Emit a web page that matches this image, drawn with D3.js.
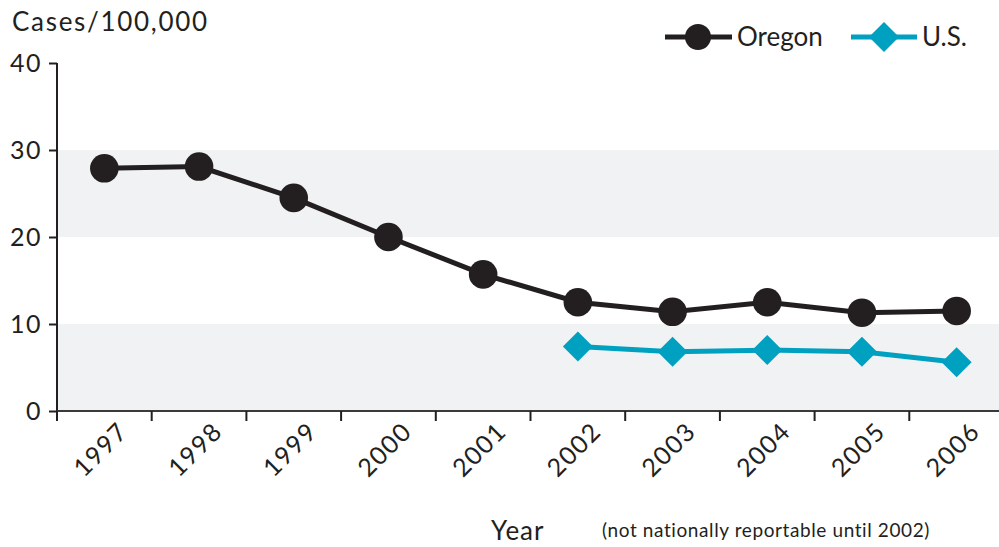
<!DOCTYPE html>
<html>
<head>
<meta charset="utf-8">
<script src="https://cdn.jsdelivr.net/npm/d3@7"></script>
<style>
  body { margin: 0; background: #fff; }
  text { font-family: "Lato", "DejaVu Sans", sans-serif; fill: #231f20; }
</style>
</head>
<body>
<div class="chart"></div>
<script>
// chart data
var years = ["1997", "1998", "1999", "2000", "2001", "2002", "2003", "2004", "2005", "2006"];
var oregonRates = [27.9, 28.1, 24.5, 20.0, 15.7, 12.5, 11.4, 12.5, 11.3, 11.5];
var usYears = ["2002", "2003", "2004", "2005", "2006"];
var usRates = [7.4, 6.8, 7.0, 6.8, 5.6];
var yTicks = [0, 10, 20, 30, 40];

var svgWidth = 999;
var svgHeight = 547;

var margin = { top: 63, right: -5, bottom: 136, left: 57 };
var width = svgWidth - margin.left - margin.right;
var height = svgHeight - margin.top - margin.bottom;

var black = "#231f20";
var blue = "#00a0c1";

var svg = d3.select(".chart")
  .append("svg")
  .attr("width", svgWidth)
  .attr("height", svgHeight);

var chartGroup = svg.append("g")
  .attr("transform", `translate(${margin.left}, ${margin.top})`);

var xScale = d3.scaleBand().domain(years).range([0, width]);
var yScale = d3.scaleLinear().domain([0, 40]).range([height, 0]);
var xc = d => xScale(d) + xScale.bandwidth() / 2;

// grey bands 0-10 and 20-30
chartGroup.selectAll("rect.band")
  .data([[0, 10], [20, 30]])
  .enter()
  .append("rect")
  .attr("x", 0)
  .attr("width", svgWidth - margin.left)
  .attr("y", d => yScale(d[1]))
  .attr("height", d => yScale(d[0]) - yScale(d[1]))
  .attr("fill", "#f1f2f4");

// y axis
var leftAxis = d3.axisLeft(yScale).tickValues(yTicks).tickSize(8).tickPadding(7);
var yAxis = chartGroup.append("g").call(leftAxis);
yAxis.select(".domain").attr("d", `M0,${height}V0`).attr("stroke", black).attr("stroke-width", 2);
yAxis.selectAll(".tick line").attr("stroke", black).attr("stroke-width", 2);
yAxis.selectAll(".tick text")
  .attr("font-size", 25)
  .attr("letter-spacing", 1.5)
  .attr("fill", black);

// x axis, ticks between years
var xAxis = chartGroup.append("g").attr("transform", `translate(0, ${height})`);
xAxis.append("line")
  .attr("x1", 0).attr("x2", svgWidth - margin.left)
  .attr("stroke", "#3a3a3a").attr("stroke-width", 2);
xAxis.selectAll("line.tick")
  .data(years)
  .enter()
  .append("line")
  .attr("x1", d => xScale(d)).attr("x2", d => xScale(d))
  .attr("y1", 0).attr("y2", 10)
  .attr("stroke", black).attr("stroke-width", 2);
xAxis.selectAll("text")
  .data(years)
  .enter()
  .append("text")
  .attr("transform", d => `translate(${xc(d) + 25}, 22) rotate(-45)`)
  .attr("text-anchor", "end")
  .attr("font-size", 25)
  .attr("letter-spacing", 1.5)
  .text(d => d);

// lines
var line = d3.line().x(d => xc(d[0])).y(d => yScale(d[1]));
var oregonData = years.map((y, i) => [y, oregonRates[i]]);
var usData = usYears.map((y, i) => [y, usRates[i]]);

chartGroup.append("path")
  .datum(oregonData)
  .attr("d", line)
  .attr("fill", "none")
  .attr("stroke", black)
  .attr("stroke-width", 5);

chartGroup.selectAll("circle.or")
  .data(oregonData)
  .enter()
  .append("circle")
  .attr("cx", d => xc(d[0]))
  .attr("cy", d => yScale(d[1]))
  .attr("r", 14.3)
  .attr("fill", black);

chartGroup.append("path")
  .datum(usData)
  .attr("d", line)
  .attr("fill", "none")
  .attr("stroke", blue)
  .attr("stroke-width", 5);

var diamond = "M0,-15L15,0L0,15L-15,0Z";
chartGroup.selectAll("path.us")
  .data(usData)
  .enter()
  .append("path")
  .attr("d", diamond)
  .attr("transform", d => `translate(${xc(d[0])}, ${yScale(d[1])})`)
  .attr("fill", blue);

// titles
svg.append("text")
  .attr("x", 12).attr("y", 31)
  .attr("font-size", 26)
  .attr("letter-spacing", 1.7)
  .text("Cases/100,000");

svg.append("text")
  .attr("x", 491).attr("y", 540)
  .attr("font-size", 26)
  .attr("letter-spacing", 1)
  .text("Year");

svg.append("text")
  .attr("x", 602).attr("y", 537)
  .attr("font-size", 19)
  .attr("letter-spacing", 0.6)
  .text("(not nationally reportable until 2002)");

// legend
var legend = svg.append("g");
legend.append("line")
  .attr("x1", 665).attr("x2", 732).attr("y1", 37).attr("y2", 37)
  .attr("stroke", black).attr("stroke-width", 5);
legend.append("circle")
  .attr("cx", 698).attr("cy", 37).attr("r", 13)
  .attr("fill", black);
legend.append("text")
  .attr("x", 737).attr("y", 46)
  .attr("font-size", 26)
  .text("Oregon");

legend.append("line")
  .attr("x1", 851).attr("x2", 917).attr("y1", 37).attr("y2", 37)
  .attr("stroke", blue).attr("stroke-width", 5);
legend.append("path")
  .attr("d", diamond)
  .attr("transform", "translate(884, 37)")
  .attr("fill", blue);
legend.append("text")
  .attr("x", 922).attr("y", 46)
  .attr("font-size", 26)
  .text("U.S.");
</script>
</body>
</html>
